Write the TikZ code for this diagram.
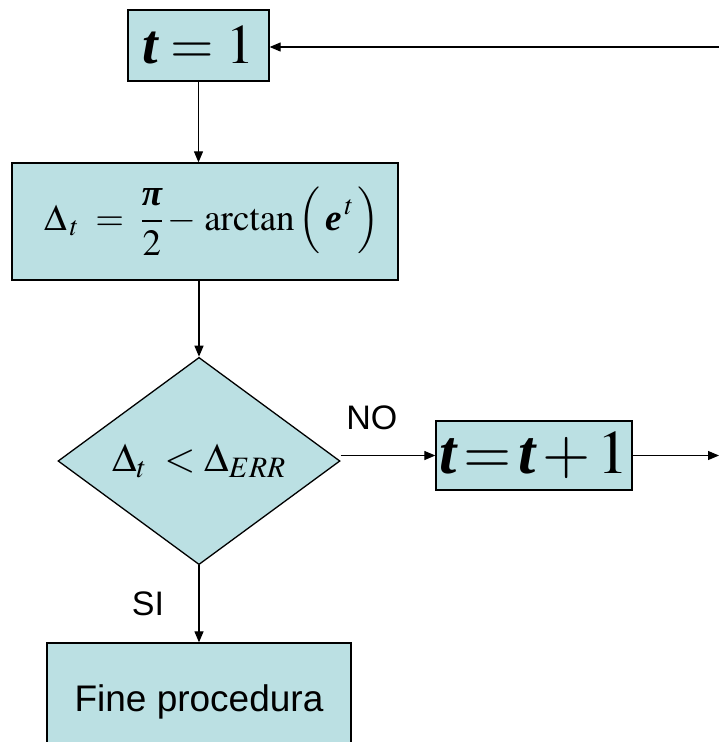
\documentclass[tikz,border=0pt]{standalone}
\usepackage{amsmath}
\usepackage{mathptmx}
\usepackage[no-math]{fontspec}
\setmainfont{Liberation Serif}
\setsansfont{Liberation Sans}
\usetikzlibrary{shapes.geometric,arrows.meta}
\definecolor{boxfill}{RGB}{187,224,227}
\newcommand{\bit}[1]{\mbox{\bfseries\itshape #1}}
\begin{document}
\begin{tikzpicture}[x=1pt, y=-1pt]
        \tikzset{boxes/.style={draw, fill=boxfill, line width=1.3pt, inner sep=0pt},
                 diamonds/.style={draw, fill=boxfill, line width=1.3pt, diamond, inner sep=0pt},
                 arrow/.style={line width=1.2pt, -{Triangle[length=11pt, width=9pt]}},
                 labels/.style={font=\sffamily\fontsize{34}{36}\selectfont}}
        \useasboundingbox (0,0) rectangle (719,742);
        \clip (0,0) rectangle (719,742);
        \node [boxes, minimum width=141pt, minimum height=71pt]  (t1)    at (198.5,45.5)
            {\fontsize{56}{60}\selectfont $\bit{t}\;{=}\;1$};
        \node [boxes, minimum width=386pt, minimum height=117pt] (delta) at (205,221.5)
            {\fontsize{37}{40}\selectfont\hspace*{14pt}$\Delta_{\,t}\;\;{=}\;\;\displaystyle\frac{\bit{π}}{2}\,{-}\,\arctan\,\Bigl(\,\bit{e}^{\,t}\,\Bigr)$};
        \node [diamonds, minimum width=282pt, minimum height=198pt] (test) at (199,461)
            {\fontsize{40}{44}\selectfont $\Delta_{t}\; < \Delta_{ERR}$};
        \node [boxes, minimum width=196pt, minimum height=69pt]  (inc)   at (534,455.5)
            {\fontsize{62}{64}\selectfont $\bit{t}\,{=}\,\bit{t}\,{+}\,1$};
        \node [boxes, minimum width=304pt, minimum height=118pt] (stop)  at (199,702)
            {\fontsize{37}{40}\selectfont\sffamily Fine procedura};
        \coordinate (back) at (730,47);
        \coordinate (out)  at (719,455.5);
        \draw [arrow] (t1) -- (t1 |- delta.north);
        \draw [arrow] (test |- delta.south) -- (test.north);
        \draw [arrow] (inc.west -| test.east) -- (inc.west)
            node [pos=0.33, above=22pt, labels] {NO};
        \draw [arrow] (inc.east) -- (out);
        \draw [arrow] (back) -- (t1.east |- back);
        \draw [arrow] (test.south) -- (stop.north)
            node [midway, left=31pt, labels] {SI};
    \end{tikzpicture}
\end{document}
